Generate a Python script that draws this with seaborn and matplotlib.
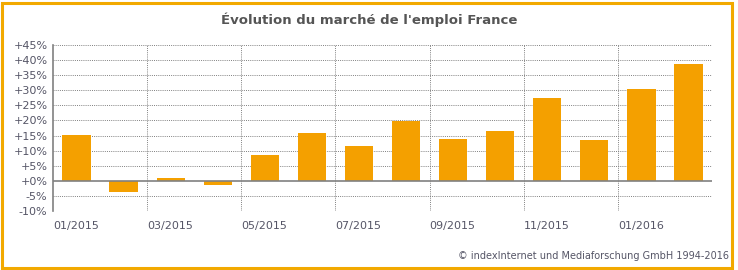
import matplotlib
matplotlib.use("Agg")
import matplotlib.pyplot as plt
from matplotlib.patches import Rectangle
import pandas as pd
import seaborn as sns

months = ["01/2015", "02/2015", "03/2015", "04/2015", "05/2015", "06/2015", "07/2015",
          "08/2015", "09/2015", "10/2015", "11/2015", "12/2015", "01/2016", "02/2016"]
change = [15.2, -3.6, 1.0, -1.3, 8.6, 16.0, 11.4, 19.9, 13.9, 16.4, 27.5, 13.6, 30.5, 38.7]
y_ticks = [-10, -5, 0, 5, 10, 15, 20, 25, 30, 35, 40, 45]

BAR = "#f4a000"
FRAME = "#f2a900"
TEXT = "#555566"
GRID = "#808080"

sns.set_theme(style="white")
plt.rcParams["font.family"] = ["DejaVu Sans"]

df = pd.DataFrame({"month": months, "change": change})

fig = plt.figure(figsize=(7.38, 2.70), dpi=100)
ax = fig.add_axes([53 / 738, 1 - 211 / 270, 659 / 738, 166 / 270])
sns.barplot(data=df, x="month", y="change", color=BAR, width=0.6, saturation=1,
            linewidth=0, ax=ax)

ax.set_xlim(-0.5, len(months) - 0.5)
ax.set_ylim(-10, 45)
ax.set_xlabel("")
ax.set_ylabel("")

ax.set_yticks(y_ticks)
ax.set_yticklabels([f"{v:+d}%" if v != 0 else "+0%" for v in y_ticks], color=TEXT, fontsize=8)
xt = [i - 0.5 for i in range(0, len(months), 2)]
ax.set_xticks(xt)
ax.set_xticklabels(months[::2], color=TEXT, fontsize=8, ha="left")
ax.tick_params(axis="both", length=0, pad=4)
ax.tick_params(axis="x", pad=7)

for v in y_ticks:
    if v != 0:
        ax.axhline(v, color=GRID, lw=0.7, ls=(0, (1, 1.2)), zorder=0)
for x in xt[1:] + [len(months) - 0.5]:
    ax.axvline(x, color=GRID, lw=0.7, ls=(0, (1, 1.2)), zorder=0)
ax.axhline(0, color=GRID, lw=1.2, zorder=3)

for side in ["top", "right", "bottom"]:
    ax.spines[side].set_visible(False)
ax.spines["left"].set_color(GRID)
ax.spines["left"].set_linewidth(1.2)

fig.text(0.5, 1 - 20 / 270, "Évolution du marché de l'emploi France", ha="center", va="center",
         fontsize=9.5, fontweight="bold", color="#555555")
fig.text(729 / 738, 1 - 256 / 270, "© indexInternet und Mediaforschung GmbH 1994-2016", ha="right",
         va="center", fontsize=7, color=TEXT)

fig.add_artist(Rectangle((1.5 / 738, 2.5 / 270), 730 / 738, 265 / 270, transform=fig.transFigure,
                         fill=False, edgecolor=FRAME, lw=2.2))

fig.savefig("out.png", dpi=100)
